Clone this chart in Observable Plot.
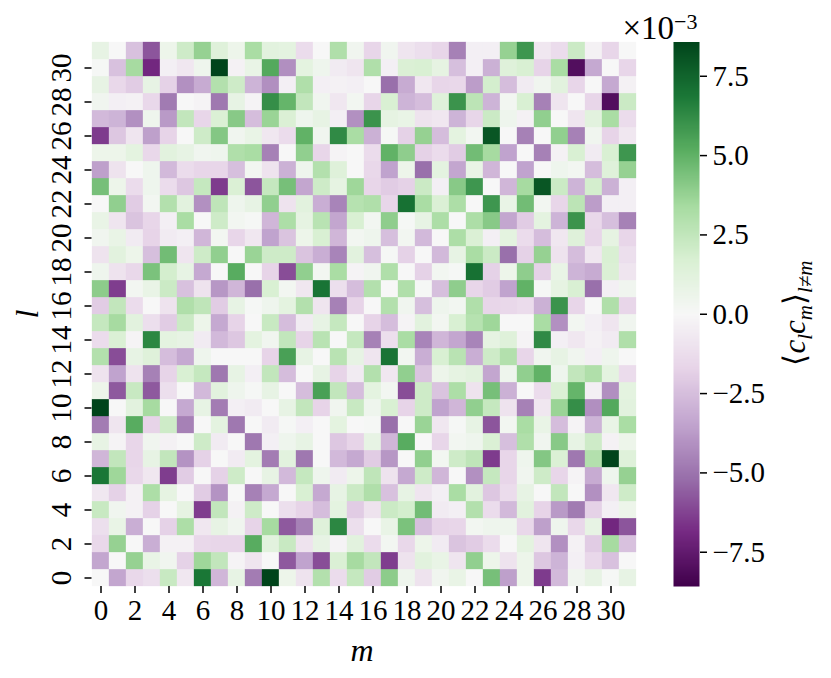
<!DOCTYPE html>
<html>
<head>
<meta charset="utf-8">
<script src="https://cdn.jsdelivr.net/npm/d3@7"></script>
<script src="https://cdn.jsdelivr.net/npm/@observablehq/plot@0.6"></script>
<style>
html,body{margin:0;padding:0;background:#fff}
#wrap{position:relative;width:831px;height:678px;overflow:hidden;font-family:"Liberation Serif",serif;color:#000}
#wrap svg{position:absolute;left:0;top:0;background:transparent}
.lab{position:absolute;white-space:nowrap;line-height:1}
sub,sup{line-height:0}
</style>
</head>
<body>
<div id="wrap"></div>
<script>
// Lower triangle of the symmetric matrix, values in units of 10^-3; lowerRows[l][m], m <= l
const lowerRows = [
[0],
[-3.4,0],
[-1.5,3.8,0],
[-1.2,.8,-3.1,0],
[2.3,.4,-.3,-1.8,0],
[-.8,-1.8,-.3,3.2,1.0,0],
[6.9,3.6,-1.5,-.8,-6.4,-2.0,0],
[-2.8,2.5,-1.6,.9,2.5,-4.0,-1.8,0],
[.9,-.2,-1.6,.4,-.3,0,2.1,-.6,0],
[-4.75,-.9,5.2,-1.7,2.1,-4.6,0,1.1,-4.9,0],
[8.58,0,1.2,3.4,0,-3.3,.9,-4.75,-.4,-.6,0],
[.6,-5.7,2.3,-5.7,-1.2,0,-2.7,1.2,.5,.1,.9,0],
[-1.0,-3.5,-1.0,-4.6,-1.7,1.7,2.4,-4.9,.9,-.4,2.5,-2.55,0],
[3.0,-6.0,.9,1.4,-2.55,-3.3,.5,0,0,0,-1.7,5.6,.9,0],
[-1.3,1.6,-.2,6.4,1.1,.9,-.6,-2.7,-2.2,1.1,.4,2.5,-1.7,2.8,0],
[2.4,3.4,1.2,-1.2,-2.0,2.2,.6,-3.3,-1.7,0,2.3,-2.55,-.6,.9,2.4,0],
[-2.0,2.5,-1.3,0,-1.0,3.1,2.6,-2.0,.9,.1,.5,1.1,3.0,-.9,-4.6,-1.7,0],
[4.0,-6.4,.3,.8,2.2,-2.4,-1.0,-3.9,-2.8,-5.15,1.7,.3,-.8,7.0,-1.2,-2.55,3.0,0],
[.5,-1.0,-1.5,4.4,1.9,.9,-3.3,0,5.2,0,-1.7,-6.0,3.9,.3,3.3,-.2,.4,3.1,0],
[-1.0,1.2,.6,-2.5,4.6,-.9,2.1,3.9,0,3.7,2.1,2.1,-2.3,-3.1,-4.5,1.2,-2.5,.1,-1.8,0],
[.4,.8,-.6,-1.7,-.6,-.4,-2.8,.3,-1.6,-.8,-3.5,-2.3,.6,1.7,-2.8,.3,.5,-2.5,.3,-2.7,0],
[.8,-.9,-2.3,-1.6,-.4,3.3,0,2.1,.3,.1,-2.8,3.2,1.0,2.8,-3.4,1.7,.3,3.95,.1,.9,3.2,0],
[0,3.9,-2.0,.3,3.0,1.2,-4.1,2.6,.5,.9,3.9,-1.0,1.2,-3.1,-4.5,2.9,3.1,-1.6,7.1,3.3,1.6,3.2,0],
[4.5,.6,-1.3,.5,-1.3,-2.2,2.4,-6.45,1.6,-5.8,2.4,4.5,-3.4,2.1,1.0,3.6,-1.6,-2.0,-1.8,2.2,-.4,4.1,5.9,0],
[-3.6,-1.0,0,.5,-2.7,-1.3,-1.6,-1.6,-2.5,.3,-1.0,-3.0,.5,3.0,1.4,0,-1.5,-3.5,.6,-5.15,1.1,-3.4,.8,-2.8,0],
[.6,.6,1.1,-1.5,1.2,.9,.4,.5,3.1,3.3,-4.6,0,3.9,-1.6,-.2,0,-1.3,5.0,3.95,-1.8,-1.3,-2.0,4.6,3.4,-3.5,0],
[-6.45,-2.2,-.9,-3.6,-1.7,0,2.1,4.2,.4,.8,-.8,-1.3,5.0,.4,6.3,3.3,-3.0,.1,-1.8,3.8,-2.55,1.1,.3,8.0,0,-4.6,0],
[-2.7,-2.9,-4.1,.5,-3.8,2.5,-1.6,1.6,4.1,-2.55,3.7,1.6,.5,.9,-.4,-4.1,6.0,1.0,.8,-1.0,-.8,-2.9,-1.6,2.2,.5,-.3,3.9,0],
[.4,-.4,-.3,-1.5,-4.8,0,-.2,-4.9,.9,-.2,6.15,4.9,2.5,.4,-.8,.3,-1.6,1.7,-2.9,-2.55,1.4,6.0,2.7,-2.9,.3,1.7,-4.6,-.9,0],
[.9,-1.5,-2.0,.9,-1.8,-4.1,-3.2,3.0,2.1,-2.9,-4.15,-.4,3.1,-.4,-.3,-.4,0,-5.15,-3.2,-.8,-1.6,-1.5,-3.7,1.9,-2.55,-.6,.4,1.2,-1.6,0],
[.1,-2.4,3.4,-7,-.4,-.8,.5,8.58,-.3,.8,5.3,-4.15,1.1,.5,-.6,-.9,3.1,-.4,1.6,1.7,1.0,-2.5,-.4,-3.0,1.4,1.7,-1.7,3.3,-8.0,-3.3,0],
[.9,0,-2.4,-5.8,.6,2.1,3.8,1.4,.6,3.3,1.2,1.1,-1.3,0,3.1,.4,-1.6,.4,-.9,-1.2,-1.6,-4.6,-.4,-.4,3.8,5.9,-.8,-1.3,2.2,-.3,-1.6,0]
];
const indexTicks = [0,2,4,6,8,10,12,14,16,18,20,22,24,26,28,30];
const barTicks = [-7.5,-5,-2.5,0,2.5,5,7.5];
const vmax = 8.58;
const prgnStops = ["#40004b","#762a83","#9970ab","#c2a5cf","#e7d4e8","#f7f7f7","#d9f0d3","#a6dba0","#5aae61","#1b7837","#00441b"];

const FONT = '"Liberation Serif", serif';
const interp = d3.piecewise(d3.interpolateRgb, prgnStops);
const colorScale = {type:"linear", domain:[-vmax,vmax], interpolate:interp};
const indices = d3.range(32);

const cells = lowerRows.flatMap((row,l)=>row.flatMap((v,m)=>
  l===m ? [{l,m,v}] : [{l,m,v},{l:m,m:l,v}]));

const main = Plot.plot({
  width:831, height:678,
  marginLeft:91.5, marginRight:194.5, marginTop:41.5, marginBottom:92,
  style:{fontFamily:FONT, background:"transparent", color:"#000"},
  x:{type:"band", domain:indices, padding:0, axis:null},
  y:{type:"band", domain:indices, padding:0, reverse:true, axis:null},
  color:colorScale,
  marks:[
    Plot.cell(cells,{x:"m",y:"l",fill:"v",stroke:"v",strokeWidth:0.3}),
    Plot.axisX(indexTicks,{anchor:"bottom",tickSize:7,tickPadding:6,fontSize:29,fontFamily:FONT,strokeWidth:1.5,label:null,tickFormat:d=>String(d)}),
    Plot.axisY(indexTicks,{anchor:"left",tickSize:7,tickPadding:14,fontSize:29,fontFamily:FONT,strokeWidth:1.5,label:null,tickRotate:-90,tickFormat:d=>String(d)})
  ]
});

const bar = Plot.plot({
  width:831, height:678,
  marginLeft:673, marginRight:132, marginTop:41.5, marginBottom:92,
  style:{fontFamily:FONT, background:"transparent", color:"#000"},
  x:{type:"linear", domain:[0,1], axis:null},
  y:{type:"linear", domain:[-vmax,vmax], axis:null},
  color:colorScale,
  marks:[
    Plot.raster({x1:0,x2:1,y1:-vmax,y2:vmax,width:1,height:512,fill:(x,y)=>y,imageRendering:"auto"}),
    Plot.axisY(barTicks,{anchor:"right",tickSize:7,tickPadding:6,fontSize:29,fontFamily:FONT,strokeWidth:1.5,label:null,tickFormat:d3.format(".1f")})
  ]
});

const wrap = document.getElementById("wrap");
wrap.append(main, bar);

function label(html, cx, cy, size, rotate){
  const d = document.createElement("div");
  d.className = "lab";
  d.innerHTML = html;
  d.style.left = cx+"px";
  d.style.top = cy+"px";
  d.style.fontSize = size+"px";
  d.style.transform = `translate(-50%,-50%)` + (rotate ? ` rotate(${rotate}deg)` : "");
  wrap.append(d);
}
label("<i>m</i>", 362, 650, 32);
label("<i>l</i>", 27, 314, 32, -90);
label('×10<sup style="font-size:22px;vertical-align:10px">−3</sup>', 660, 28, 33);
label('⟨<i>c<sub style="font-size:21px">l</sub>c<sub style="font-size:21px">m</sub></i>⟩<i><sub style="font-size:21px">l≠m</sub></i>', 794, 313, 31, -90);
</script>
</body>
</html>
